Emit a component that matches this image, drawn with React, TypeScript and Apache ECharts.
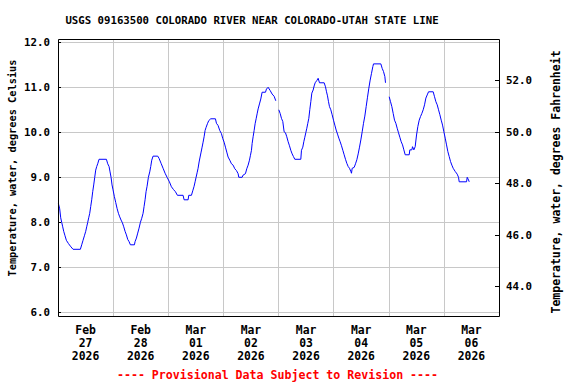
import React, { useEffect, useRef } from "react";
import * as echarts from "echarts";

const TITLE = "USGS 09163500 COLORADO RIVER NEAR COLORADO-UTAH STATE LINE";
const LEFT_NAME = "Temperature, water, degrees Celsius";
const RIGHT_NAME = "Temperature, water, degrees Fahrenheit";
const FOOTER = "---- Provisional Data Subject to Revision ----";

// x axis: hours since Feb 27 2026 00:00
const dayLabels = ["Feb\n27\n2026", "Feb\n28\n2026", "Mar\n01\n2026", "Mar\n02\n2026", "Mar\n03\n2026", "Mar\n04\n2026", "Mar\n05\n2026", "Mar\n06\n2026"];
const labelHours = [12, 36, 60, 84, 108, 132, 156, 180];
const midnightHours = [24, 48, 72, 96, 120, 144, 168];
const celsiusTicks = [6, 7, 8, 9, 10, 11, 12];
const fahrenheitTicks = [44, 46, 48, 50, 52];

const hours = [
  0.16, 0.74, 1.18, 1.61, 2.05, 2.48, 3.06, 3.64, 4.52, 5.39, 6.55, 9.74, 10.32, 10.9, 11.49, 12.07, 12.5, 12.94, 13.37, 13.81,
  14.24, 14.68, 15.11, 15.55, 15.99, 16.42, 16.86, 17.29, 17.87, 21.07, 21.65, 22.23, 22.66, 23.1, 23.53, 23.97, 24.55, 25.13, 25.71, 26.3,
  26.88, 27.45, 28.04, 28.62, 29.2, 29.78, 30.36, 30.94, 31.52, 33.27, 33.55, 34.14, 34.71, 35.29, 35.88, 36.46, 37.04, 37.47, 37.91, 38.34,
  38.78, 39.36, 39.94, 40.38, 40.81, 41.39, 43.43, 44.0, 44.88, 45.75, 46.62, 47.49, 48.51, 49.38, 50.25, 51.12, 51.99, 54.46, 54.9, 56.64,
  56.93, 58.09, 58.67, 59.25, 59.69, 60.12, 60.56, 60.99, 61.43, 61.86, 62.3, 62.74, 63.17, 63.61, 64.04, 64.48, 65.06, 65.64, 66.51, 68.54,
  68.98, 69.7, 70.43, 71.16, 71.74, 72.32, 72.9, 73.48, 74.06, 74.79, 75.52, 76.24, 76.97, 77.69, 78.42, 78.71, 80.16, 80.6, 81.61, 82.19,
  82.77, 83.36, 83.79, 84.23, 84.52, 84.95, 85.39, 85.82, 86.26, 86.69, 87.13, 87.71, 88.29, 88.87, 90.33, 90.76, 91.48, 92.35, 93.22, 94.1,
  94.82, 95.5, 96.13, 96.71, 97.29, 97.87, 98.45, 99.03, 99.61, 100.2, 100.78, 101.36, 101.94, 102.52, 103.1, 105.71, 106.0, 106.58, 107.02, 107.46,
  107.89, 108.33, 108.76, 109.2, 109.64, 110.07, 110.51, 111.09, 111.52, 111.96, 112.68, 113.26, 113.85, 115.88, 116.46, 116.9, 117.33, 117.77, 118.2, 118.78,
  119.36, 119.94, 120.52, 121.1, 121.69, 122.27, 122.85, 123.43, 124.01, 124.59, 125.17, 125.75, 126.33, 126.91, 127.49, 127.78, 128.07, 128.94, 129.53, 130.11,
  130.69, 131.27, 131.85, 132.43, 133.01, 133.59, 134.17, 134.75, 135.33, 135.91, 136.49, 137.07, 137.37, 140.56, 141.14, 141.72, 142.3, 142.59, 143.4, 144.19,
  144.77, 145.35, 145.93, 146.51, 147.09, 147.67, 148.25, 148.83, 149.42, 150.0, 150.58, 151.16, 152.9, 153.19, 154.06, 154.35, 154.93, 155.51, 156.1, 156.68,
  157.26, 157.84, 158.42, 159.0, 159.58, 160.16, 160.74, 161.32, 163.35, 163.93, 164.52, 165.1, 165.68, 166.26, 166.84, 167.42, 168.0, 168.58, 169.16, 169.74,
  170.32, 170.9, 171.48, 172.06, 172.93, 173.8, 174.38, 174.67, 177.87, 178.16, 178.74, 179.03,
];

const tempC: (number | null)[] = [
  8.42, 8.3, 8.1, 8.0, 7.9, 7.8, 7.7, 7.6, 7.53, 7.47, 7.4, 7.4, 7.5, 7.6, 7.7, 7.8, 7.9, 8.0, 8.1, 8.2,
  8.35, 8.5, 8.68, 8.83, 9.0, 9.16, 9.24, 9.3, 9.4, 9.4, 9.3, 9.24, 9.12, 9.0, 8.83, 8.72, 8.57, 8.44, 8.31, 8.2,
  8.12, 8.05, 7.99, 7.9, 7.8, 7.72, 7.62, 7.57, 7.5, 7.5, 7.57, 7.65, 7.76, 7.87, 8.0, 8.09, 8.2, 8.35, 8.5, 8.68,
  8.8, 9.0, 9.12, 9.24, 9.38, 9.47, 9.47, 9.42, 9.31, 9.2, 9.09, 9.0, 8.9, 8.79, 8.73, 8.68, 8.6, 8.6, 8.5, 8.5,
  8.6, 8.6, 8.7, 8.8, 8.9, 9.0, 9.1, 9.2, 9.34, 9.45, 9.56, 9.67, 9.78, 9.9, 10.04, 10.11, 10.19, 10.26, 10.3, 10.3,
  10.2, 10.15, 10.04, 9.97, 9.86, 9.78, 9.67, 9.56, 9.45, 9.38, 9.3, 9.27, 9.19, 9.15, 9.08, 9.0, 9.0, 9.05, 9.08, 9.19,
  9.27, 9.38, 9.49, 9.6, 9.75, 9.9, 10.04, 10.19, 10.3, 10.41, 10.52, 10.63, 10.74, 10.89, 10.89, 10.96, 11.0, 10.93, 10.85, 10.8,
  10.7, null, 10.5, 10.42, 10.31, 10.24, 10.01, 9.99, 9.9, 9.79, 9.7, 9.6, 9.52, 9.46, 9.4, 9.4, 9.6, 9.67, 9.79, 9.89,
  9.99, 10.09, 10.2, 10.31, 10.51, 10.68, 10.87, 10.94, 11.03, 11.1, 11.15, 11.2, 11.1, 11.1, 11.01, 10.9, 10.81, 10.68, 10.57, 10.5,
  10.39, 10.27, 10.16, 10.05, 9.96, 9.87, 9.79, 9.7, 9.6, 9.5, 9.4, 9.31, 9.24, 9.2, 9.13, 9.09, 9.2, 9.22, 9.3, 9.39,
  9.52, 9.67, 9.83, 10.01, 10.2, 10.36, 10.57, 10.78, 10.98, 11.16, 11.31, 11.46, 11.52, 11.52, 11.42, 11.35, 11.24, 11.1, null, 10.79,
  10.68, 10.57, 10.42, 10.27, 10.2, 10.09, 9.99, 9.89, 9.79, 9.72, 9.61, 9.5, 9.5, 9.61, 9.61, 9.68, 9.61, 9.68, 9.94, 10.13,
  10.27, 10.35, 10.42, 10.5, 10.61, 10.76, 10.83, 10.9, 10.9, 10.79, 10.68, 10.61, 10.5, 10.39, 10.27, 10.16, 10.01, 9.87, 9.72, 9.57,
  9.46, 9.35, 9.27, 9.2, 9.13, 9.07, 9.0, 8.9, 8.9, 9.0, 8.94, 8.9,
];

const MONO = "'DejaVu Sans Mono', 'Liberation Mono', monospace";

export default function App() {
  const ref = useRef<HTMLDivElement>(null);
  useEffect(() => {
    if (!ref.current) return;
    const chart = echarts.init(ref.current, null, { renderer: "svg" });
    const data = hours.map((h, i) => [h, tempC[i] === null ? "-" : tempC[i]]);
    const GL = 58, GT = 39, GW = 441, GH = 277;
    chart.setOption({
      animation: false,
      backgroundColor: "#ffffff",
      grid: { left: GL, top: GT, width: GW, height: GH, containLabel: false },
      xAxis: {
        type: "value",
        min: 0,
        max: 192,
        axisLine: { show: false },
        axisTick: { show: false, customValues: midnightHours },
        splitLine: { show: true, lineStyle: { color: "#c8c8c8", width: 1 } },
        axisLabel: {
          customValues: labelHours,
          formatter: (v: number) => dayLabels[Math.round((v - 12) / 24)] ?? "",
          fontFamily: MONO,
          fontWeight: "bold",
          fontSize: 11.4,
          lineHeight: 13,
          color: "#000",
          margin: 7,
        },
      },
      yAxis: [
        {
          type: "value",
          min: 5.918,
          max: 12.073,
          axisLine: { show: false },
          axisTick: { show: true, inside: true, length: 3, customValues: celsiusTicks, lineStyle: { color: "#000" } },
          splitLine: { show: true, lineStyle: { color: "#c8c8c8", width: 1 } },
          axisLabel: {
            customValues: celsiusTicks,
            formatter: (v: number) => v.toFixed(1),
            fontFamily: MONO,
            fontWeight: "bold",
            fontSize: 10.8,
            color: "#000",
            margin: 8,
          },
        },
        {
          type: "value",
          position: "right",
          min: 42.86,
          max: 53.62,
          axisLine: { show: false },
          axisTick: { show: true, inside: true, length: 4, customValues: fahrenheitTicks, lineStyle: { color: "#000" } },
          splitLine: { show: false },
          axisLabel: {
            customValues: fahrenheitTicks,
            formatter: (v: number) => v.toFixed(1),
            fontFamily: MONO,
            fontWeight: "bold",
            fontSize: 10.8,
            color: "#000",
            margin: 7,
          },
        },
      ],
      series: [
        {
          type: "line",
          xAxisIndex: 0,
          yAxisIndex: 0,
          data,
          symbol: "none",
          connectNulls: false,
          lineStyle: { color: "#0000ff", width: 1 },
          clip: true,
        },
      ],
      graphic: [
        {
          type: "rect",
          shape: { x: GL + 0.5, y: GT + 0.5, width: GW, height: GH },
          style: { fill: "none", stroke: "#000", lineWidth: 1 },
          silent: true,
          z: 100,
        },
        {
          type: "text",
          x: 252,
          y: 20,
          style: {
            text: TITLE,
            fontFamily: MONO,
            fontWeight: "bold",
            fontSize: 10.7,
            fill: "#000",
            textAlign: "center",
            textVerticalAlign: "middle",
          },
        },
        {
          type: "text",
          x: 12,
          y: 168,
          rotation: Math.PI / 2,
          style: {
            text: LEFT_NAME,
            fontFamily: MONO,
            fontWeight: "bold",
            fontSize: 10.3,
            fill: "#000",
            textAlign: "center",
            textVerticalAlign: "middle",
          },
        },
        {
          type: "text",
          x: 556,
          y: 182,
          rotation: Math.PI / 2,
          style: {
            text: RIGHT_NAME,
            fontFamily: MONO,
            fontWeight: "bold",
            fontSize: 11.5,
            fill: "#000",
            textAlign: "center",
            textVerticalAlign: "middle",
          },
        },
        {
          type: "text",
          x: 277.5,
          y: 375,
          style: {
            text: FOOTER,
            fontFamily: MONO,
            fontWeight: "bold",
            fontSize: 11.6,
            fill: "#ff0000",
            textAlign: "center",
            textVerticalAlign: "middle",
          },
        },
      ],
    });
    return () => chart.dispose();
  }, []);
  return (
    <div
      ref={ref}
      style={{ position: "fixed", left: 0, top: 0, width: 576, height: 384, background: "#fff" }}
    />
  );
}
